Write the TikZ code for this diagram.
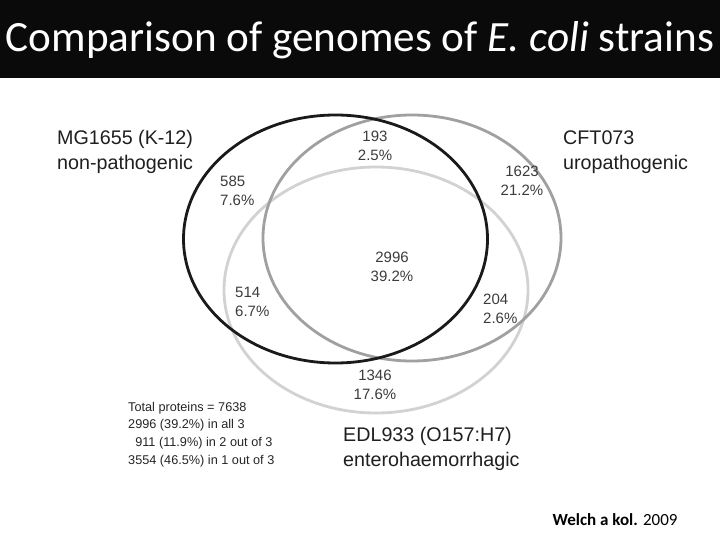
\documentclass[tikz,border=0pt]{standalone}
\usepackage{fontspec}
\setmainfont{Liberation Sans}
\newfontfamily\slidefont{Carlito}
\usetikzlibrary{positioning}
\definecolor{strainA}{HTML}{1A1A1A}
\definecolor{strainB}{HTML}{A0A0A0}
\definecolor{strainC}{HTML}{D2D2D2}
\definecolor{numgray}{HTML}{3C3C3C}
\begin{document}
\begin{tikzpicture}[
  x=1pt,y=-1pt,
  ring/.style={line width=2.8pt},
  count/.style={inner sep=0pt,align=center,text=numgray,
                font=\fontsize{15}{18.5}\selectfont},
  countl/.style={count,align=left,anchor=west},
  strain/.style={inner sep=0pt,align=left,anchor=west,text=black!88,
                 font=\fontsize{19.7}{25}\selectfont},
  summary/.style={inner sep=0pt,align=left,anchor=west,text=black!85,
                  font=\fontsize{12.7}{17.7}\selectfont}]

\useasboundingbox[fill=white] (0,0) rectangle (720,540);
\fill[black!96] (0,0) rectangle (720,78);
\node[anchor=base,text=white,inner sep=0pt,font=\slidefont\fontsize{43.2}{46}\selectfont]
  (title) at (360,52) {Comparison of genomes of \textit{E. coli} strains};

\draw[ring,strainC] (376,290) ellipse [x radius=152pt,y radius=123pt];
\draw[ring,strainB] (412,238) ellipse [x radius=149pt,y radius=123pt];
\draw[ring,strainA] (335.5,239) ellipse [x radius=152pt,y radius=124pt];

\node[strain] (mg) at (57,152) {MG1655 (K-12)\\non-pathogenic};
\node[strain] (cft) at (563,152) {CFT073\\uropathogenic};
\node[strain] (edl) at (343,449) {EDL933 (O157:H7)\\enterohaemorrhagic};

\node[count] (ab) at (375,146) {193\\2.5\%};
\node[countl] (a) at (220,191) {585\\7.6\%};
\node[count] (b) at (522,181) {1623\\21.2\%};
\node[count] (abc) at (392,267) {2996\\39.2\%};
\node[countl] (ac) at (235,302) {514\\6.7\%};
\node[countl] (bc) at (483,309) {204\\2.6\%};
\node[count] (c) at (375,385) {1346\\17.6\%};

\node[summary] (total) at (128,434.5) {Total proteins = 7638\\
  2996 (39.2\%) in all 3\\
  \phantom{0}911 (11.9\%) in 2 out of 3\\
  3554 (46.5\%) in 1 out of 3};

\node[inner sep=0pt,font=\slidefont\fontsize{17}{20}\selectfont]
  (cite) at (615,520) {\textbf{Welch a kol.} 2009};
\end{tikzpicture}
\end{document}
